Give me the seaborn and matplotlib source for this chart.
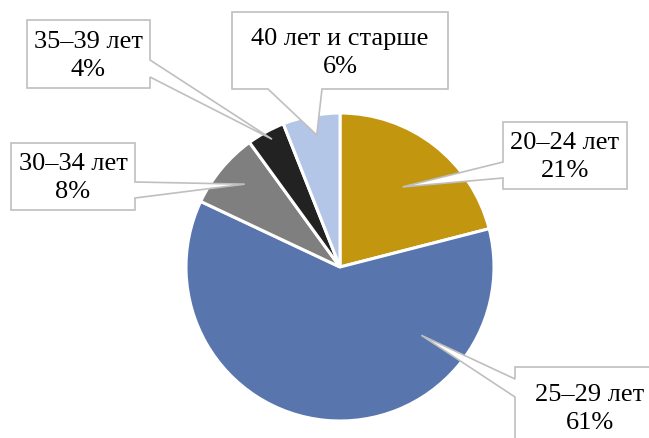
import numpy as np
import seaborn as sns
import matplotlib.pyplot as plt
from matplotlib.patches import Polygon

# age groups and their shares, %
age_groups = ["20–24 лет", "25–29 лет", "30–34 лет", "35–39 лет", "40 лет и старше"]
shares = [21, 61, 8, 4, 6]
slice_colors = ["#C3960F", "#5875AD", "#7F7F7F", "#222222", "#B4C6E7"]

sns.set_style("white")
plt.rcParams["font.family"] = ["Liberation Serif", "DejaVu Serif"]

# pie geometry in pixels (centre and radius)
CX, CY, R = 340, 267, 154
W, H = 649, 438


def to_data(x, y):
    return ((x - CX) / R, (CY - y) / R)


fig = plt.figure(figsize=(W / 100, H / 100), dpi=100)
ax = fig.add_axes([0, 0, 1, 1])
ax.pie(shares, colors=slice_colors, startangle=90, counterclock=False,
       radius=1, center=(0, 0),
       wedgeprops={"edgecolor": "white", "linewidth": 2.2})
ax.set_xlim(-CX / R, (W - CX) / R)
ax.set_ylim((CY - H) / R, CY / R)
ax.set_aspect("equal")
ax.axis("off")

# callout layout: box (x0, y0, x1, y1) in px, side of the tail, tail base, tip (angle, radius), text centre
callouts = [
    ((503, 122, 627, 189), "left", (162, 178), (52, 0.66), (565, 157)),
    ((515, 367, 668, 442), "left", (379, 397), (-40, 0.69), (590, 409)),
    ((11, 143, 135, 210), "right", (182, 198), (139, 0.82), (73, 178)),
    ((27, 20, 150, 88), "right", (60, 77), (118, 0.94), (88, 56)),
    ((232, 12, 448, 89), "bottom", (268, 322), (100, 0.87), (340, 53)),
]

for label, share, (box, side, base, tip, tc) in zip(age_groups, shares, callouts):
    x0, y0, x1, y1 = box
    a, b = base
    ang, rr = tip
    tip_d = (rr * np.cos(np.radians(ang)), rr * np.sin(np.radians(ang)))
    pts = [to_data(x0, y0), to_data(x1, y0)]
    if side == "right":
        pts += [to_data(x1, a), tip_d, to_data(x1, b)]
    pts.append(to_data(x1, y1))
    if side == "bottom":
        pts += [to_data(b, y1), tip_d, to_data(a, y1)]
    pts.append(to_data(x0, y1))
    if side == "left":
        pts += [to_data(x0, b), tip_d, to_data(x0, a)]
    ax.add_patch(Polygon(pts, closed=True, facecolor="white",
                         edgecolor="#BFBFBF", linewidth=1.2, zorder=3))
    tx, ty = to_data(*tc)
    ax.text(tx, ty, f"{label}\n{share}%", ha="center", va="center",
            multialignment="center", fontsize=19, linespacing=1.36,
            color="black", zorder=4)

fig.savefig("out.png", dpi=100)
